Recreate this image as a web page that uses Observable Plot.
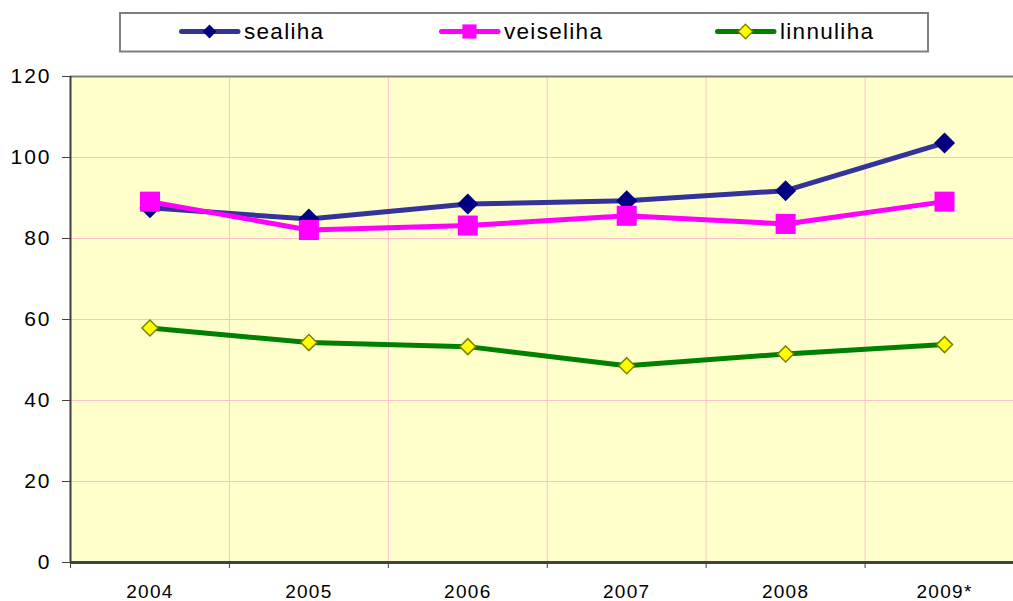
<!DOCTYPE html>
<html>
<head>
<meta charset="utf-8">
<script src="https://cdn.jsdelivr.net/npm/d3@7"></script>
<script src="https://cdn.jsdelivr.net/npm/@observablehq/plot@0.6"></script>
<style>
  html, body { margin: 0; padding: 0; background: white; overflow: hidden; }
  #wrap { position: relative; width: 1013px; height: 601px; }
  #legend { position: absolute; left: 0; top: 0; pointer-events: none; }
  g[aria-label="y-axis tick label"] text { letter-spacing: 2px; }
  g[aria-label="x-axis tick label"] text { letter-spacing: 1.3px; }
</style>
</head>
<body>
<div id="wrap"></div>
<script>
const years = ["2004", "2005", "2006", "2007", "2008", "2009*"];
const sealiha = [87.6, 84.8, 88.5, 89.3, 91.8, 103.6];
const veiseliha = [89.1, 82.1, 83.2, 85.6, 83.6, 89.1];
const linnuliha = [57.9, 54.3, 53.3, 48.6, 51.5, 53.8];
const seriesNames = ["sealiha", "veiseliha", "linnuliha"];
const seriesValues = [sealiha, veiseliha, linnuliha];
const lineColors = ["#333399", "#FF00FF", "#008000"];
const markerFill = ["#000080", "#FF00FF", "#FFFF00"];
const markerStroke = ["none", "none", "#808000"];
const markerSymbol = ["diamond2", "square", "diamond2"];
const markerR = [9.5, 11.3, 7.2];
const yTicks = [0, 20, 40, 60, 80, 100, 120];

const FONT = "'Liberation Sans', Arial, Helvetica, sans-serif";
const idx = years.map((_, i) => i);
const bounds = idx.slice(0, -1).map(i => i - 0.5).concat([years.length - 1.5]);
const rows = seriesNames.map((name, s) =>
  years.map((year, i) => ({series: name, i, year, value: seriesValues[s][i]})));

const marks = [
  Plot.frame({fill: "#FFFFCC", stroke: "none"}),
  Plot.gridY(yTicks.slice(1, -1), {stroke: "#FFC0CB", strokeOpacity: 1, strokeWidth: 1}),
  Plot.gridX(bounds.slice(1), {stroke: "#FFC0CB", strokeOpacity: 1, strokeWidth: 1}),
  Plot.ruleY([yTicks[yTicks.length - 1]], {stroke: "#808080", strokeWidth: 2})
];
seriesNames.forEach((name, s) => {
  marks.push(Plot.line(rows[s], {x: "i", y: "value", stroke: lineColors[s], strokeWidth: 5,
    strokeLinejoin: "round", strokeLinecap: "butt"}));
  marks.push(Plot.dot(rows[s], {x: "i", y: "value", symbol: markerSymbol[s], r: markerR[s],
    fill: markerFill[s], stroke: markerStroke[s], strokeWidth: 1.5}));
});
marks.push(
  Plot.ruleX([bounds[0]], {stroke: "#404040", strokeWidth: 2}),
  Plot.ruleY([0], {stroke: "#404040", strokeWidth: 3}),
  Plot.axisY({ticks: yTicks, tickSize: 8, tickPadding: 11, fontSize: 21, stroke: "#404040",
    fill: "black", label: null, tickFormat: d => String(d)}),
  Plot.axisX({ticks: bounds, tickSize: 6, tickFormat: () => "", stroke: "#404040", label: null}),
  Plot.axisX({ticks: idx, tickSize: 0, tickPadding: 22, fontSize: 19, fill: "black",
    label: null, tickFormat: i => years[i]})
);

const chart = Plot.plot({
  width: 1013,
  height: 601,
  marginLeft: 70,
  marginRight: 0,
  marginTop: 76,
  marginBottom: 39,
  style: {fontFamily: FONT, background: "white", color: "black"},
  x: {type: "linear", domain: [-0.5, years.length - 0.5], range: [70, 1023.5]},
  y: {domain: [yTicks[0], yTicks[yTicks.length - 1]]},
  marks
});
document.getElementById("wrap").appendChild(chart);

// Legend
const lg = d3.select("#wrap").append("svg").attr("id", "legend")
  .attr("width", 1013).attr("height", 60);
lg.append("rect").attr("x", 120).attr("y", 13).attr("width", 808).attr("height", 38.5)
  .attr("fill", "white").attr("stroke", "#808080").attr("stroke-width", 2);
const itemX = [179, 439, 715];
const sym = {diamond2: d3.symbolDiamond2, square: d3.symbolSquare};
const legendR = [6.2, 8, 6.5];
seriesNames.forEach((name, s) => {
  const g = lg.append("g").attr("transform", `translate(${itemX[s]},31.5)`);
  g.append("line").attr("x1", 2.5).attr("x2", 59).attr("stroke", lineColors[s])
    .attr("stroke-width", 5).attr("stroke-linecap", "round");
  g.append("path").attr("transform", "translate(30.5,0)")
    .attr("d", d3.symbol(sym[markerSymbol[s]], Math.PI * legendR[s] * legendR[s])())
    .attr("fill", markerFill[s]).attr("stroke", markerStroke[s]).attr("stroke-width", 1.3);
  g.append("text").attr("x", 65).attr("y", 7.8).text(name)
    .attr("font-family", FONT).attr("font-size", 22.5).attr("letter-spacing", "1.3px")
    .attr("fill", "black");
});
</script>
</body>
</html>
